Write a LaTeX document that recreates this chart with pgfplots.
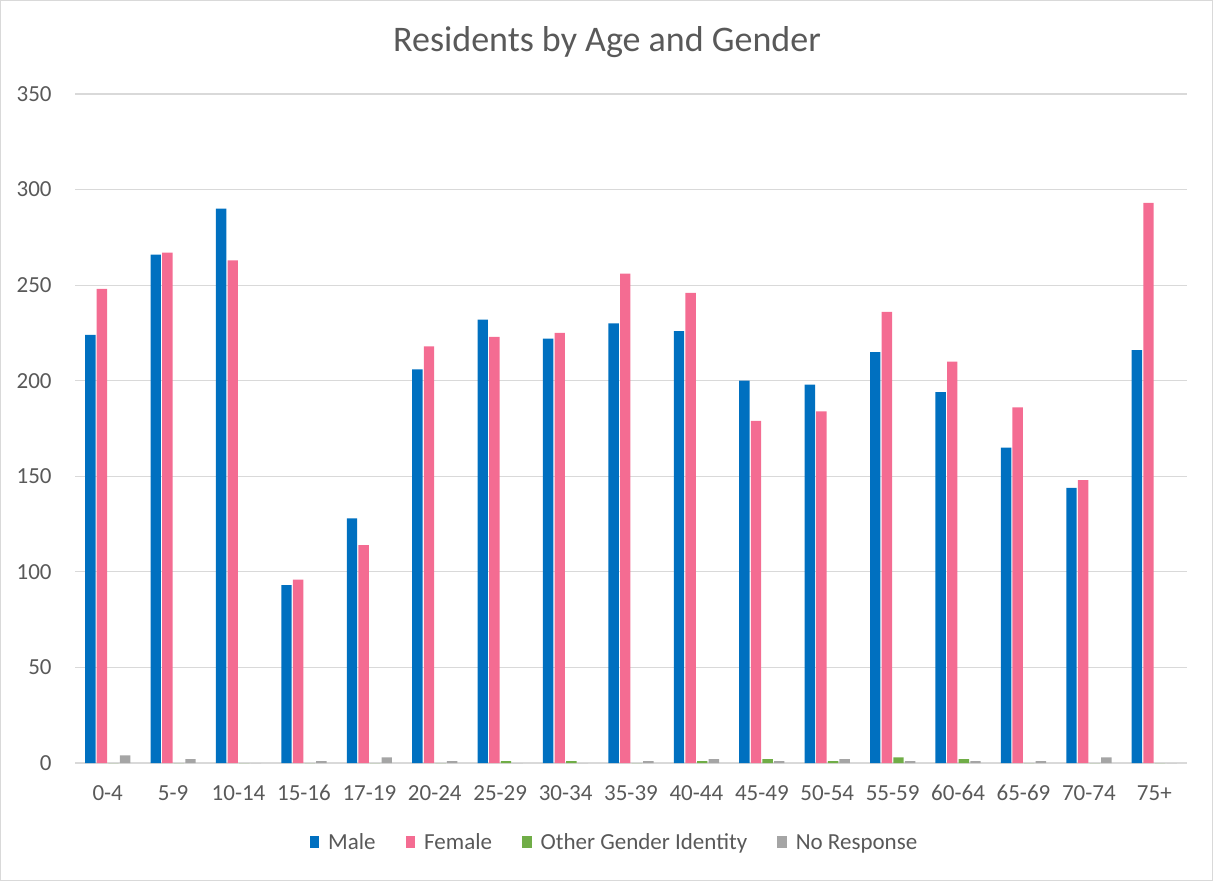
\documentclass[border=0pt]{standalone}
\usepackage{pgfplots}
\pgfplotsset{compat=1.18}
\usepackage{pgfplotstable}
\usepackage{fontspec}
\setmainfont{Carlito}

\definecolor{malec}{HTML}{0070C0}
\definecolor{femalec}{HTML}{F46C92}
\definecolor{otherc}{HTML}{70AD47}
\definecolor{nresc}{HTML}{A5A5A5}
\definecolor{gridc}{HTML}{D9D9D9}
\definecolor{textc}{HTML}{595959}

% age groups: male, female, other gender identity, no response
\pgfplotstableread{
x lab   male female other nores
0  0-4    224 248 0 4
1  5-9    266 267 0 2
2  10-14  290 263 0 0
3  15-16  93  96  0 1
4  17-19  128 114 0 3
5  20-24  206 218 0 1
6  25-29  232 223 1 0
7  30-34  222 225 1 0
8  35-39  230 256 0 1
9  40-44  226 246 1 2
10 45-49  200 179 2 1
11 50-54  198 184 1 2
12 55-59  215 236 3 1
13 60-64  194 210 2 1
14 65-69  165 186 0 1
15 70-74  144 148 0 3
16 75+    216 293 0 0
}\data

\begin{document}
\begin{tikzpicture}
\path[use as bounding box] (0,0) rectangle (606.5pt,-440.5pt);
\draw[gridc, line width=0.6pt] (0.3pt,-0.3pt) rectangle (606.2pt,-440.2pt);
\node[text=textc, font=\fontsize{18}{20}\selectfont] at (303.5pt,-21pt) {Residents by Age and Gender};
\begin{axis}[
  at={(37.5pt,-381.5pt)}, anchor=south west,
  width=556pt, height=334.5pt, scale only axis,
  ybar=0.6pt, bar width=5.2pt,
  xmin=-0.5, xmax=16.5,
  ymin=0, ymax=350,
  ytick={0,50,...,350},
  xtick=data,
  xticklabels from table={\data}{lab},
  axis x line*=bottom, axis y line*=left,
  x axis line style={gridc, line width=1pt},
  y axis line style={draw=none},
  ymajorgrids, grid style={gridc, line width=0.6pt},
  major tick length=0pt,
  ticklabel style={text=textc, font=\fontsize{11.5}{13}\selectfont},
  /pgf/number format/assume math mode=true,
  yticklabel style={inner sep=0pt, xshift=-11.5pt},
  xticklabel style={inner sep=0pt, yshift=-11pt},
  legend columns=4,
  legend style={draw=none, at={(0.486,-0.12)}, anchor=center,
    font=\fontsize{11.5}{13}\selectfont, text=textc,
    /tikz/every odd column/.append style={column sep=2.5pt},
    /tikz/every even column/.append style={column sep=13pt}},
  legend image code/.code={\fill[#1] (0pt,-2.6pt) rectangle (4.8pt,3.4pt);},
]
\addplot[fill=malec, draw=none] table[x=x, y=male] {\data};
\addplot[fill=femalec, draw=none] table[x=x, y=female] {\data};
\addplot[fill=otherc, draw=none] table[x=x, y=other] {\data};
\addplot[fill=nresc, draw=none] table[x=x, y=nores] {\data};
\legend{Male, Female, Other Gender Identity, No Response}
\end{axis}
\end{tikzpicture}
\end{document}
